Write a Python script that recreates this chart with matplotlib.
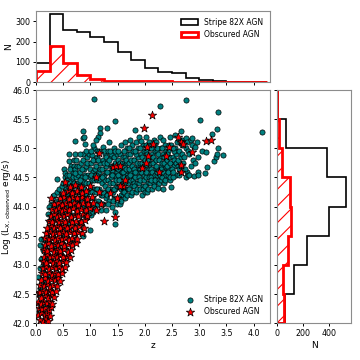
import matplotlib
matplotlib.use("Agg")
import matplotlib.pyplot as plt
from matplotlib.patches import Patch

# --- histogram counts ---
z_edges = [0.0, 0.25, 0.5, 0.75, 1.0, 1.25, 1.5, 1.75, 2.0, 2.25, 2.5,
           2.75, 3.0, 3.25, 3.5, 3.75, 4.0, 4.25]
z_counts_all = [97, 332, 258, 248, 222, 196, 149, 112, 70, 53, 47, 24, 11, 8, 1, 0, 1]
z_counts_obs = [57, 177, 96, 37, 18, 8, 8, 8, 6, 6, 4, 3, 3, 1, 1, 0, 0]

lx_edges = [42.0, 42.5, 43.0, 43.5, 44.0, 44.5, 45.0, 45.5, 46.0]
lx_counts_all = [62, 130, 229, 400, 535, 384, 65, 5]
lx_counts_obs = [50, 47, 86, 104, 99, 36, 15, 2]

# --- scatter points (z, log Lx) ---
agn_points = [
    (0.05, 42.35), (0.07, 42.6), (0.04, 42.8), (0.08, 42.95), (0.06, 42.5), (0.09, 43.1), (0.03, 42.2),
    (0.12, 42.7), (0.15, 43.0), (0.10, 43.45), (0.17, 43.3), (0.14, 43.43), (0.19, 43.1), (0.13, 42.9),
    (0.18, 42.5), (0.16, 42.3), (0.12, 43.25), (0.08, 43.35),
    (0.21, 43.55), (0.23, 43.75), (0.22, 43.88), (0.28, 44.05), (0.24, 44.0), (0.27, 43.65),
    (0.29, 43.85), (0.26, 42.8), (0.24, 43.1),
    (0.31, 44.15), (0.33, 44.2), (0.36, 44.0), (0.385, 44.47), (0.34, 43.8), (0.39, 44.25),
    (0.32, 43.5), (0.37, 43.3),
    (0.41, 44.1), (0.43, 44.3), (0.46, 44.2), (0.48, 44.35), (0.44, 43.95), (0.47, 43.6),
    (0.42, 43.7), (0.49, 44.05), (0.45, 43.2),
    (0.51, 44.64), (0.53, 44.5), (0.55, 44.3), (0.57, 44.45), (0.52, 44.15), (0.58, 44.2),
    (0.56, 43.9), (0.54, 43.5), (0.59, 43.7), (0.52, 43.3), (0.57, 44.0), (0.53, 44.58),
    (0.505, 44.4), (0.535, 44.25), (0.565, 44.55), (0.595, 44.35), (0.515, 44.05),
    (0.61, 44.55), (0.60, 44.78), (0.61, 44.91), (0.66, 44.45), (0.68, 44.6), (0.62, 44.3),
    (0.69, 44.25), (0.65, 44.1), (0.67, 43.85), (0.61, 43.6), (0.66, 43.45), (0.69, 44.0),
    (0.69, 44.8), (0.64, 44.7),
    (0.605, 44.42), (0.625, 44.65), (0.645, 44.2), (0.675, 44.5), (0.695, 44.7), (0.635, 44.0),
    (0.685, 44.35),
    (0.71, 44.65), (0.72, 45.13), (0.74, 44.5), (0.76, 44.7), (0.78, 44.4), (0.73, 44.25),
    (0.77, 44.1), (0.75, 43.9), (0.79, 43.7), (0.72, 43.55), (0.78, 44.55), (0.74, 44.8),
    (0.705, 44.4), (0.725, 44.58), (0.745, 44.15), (0.765, 44.35), (0.785, 44.7), (0.715, 44.9),
    (0.755, 44.05), (0.795, 44.25),
    (0.81, 44.6), (0.83, 44.75), (0.85, 44.5), (0.86, 45.17), (0.88, 44.65), (0.82, 44.35),
    (0.86, 44.2), (0.84, 44.0), (0.89, 43.85), (0.81, 43.7), (0.86, 43.5), (0.88, 44.42),
    (0.86, 44.9), (0.90, 45.08), (0.87, 45.3), (0.88, 45.2),
    (0.805, 44.45), (0.825, 44.15), (0.845, 44.65), (0.865, 44.8), (0.885, 44.3), (0.815, 44.9),
    (0.855, 44.05), (0.895, 44.55),
    (0.91, 44.7), (0.93, 44.85), (0.95, 44.55), (0.97, 44.9), (0.98, 44.75), (0.92, 44.4),
    (0.96, 44.25), (0.94, 44.1), (0.99, 43.95), (0.91, 43.8), (0.99, 43.6), (0.99, 44.5),
    (0.905, 44.5), (0.925, 44.2), (0.945, 44.75), (0.965, 44.4), (0.985, 44.65), (0.915, 44.95),
    (0.955, 44.0), (0.995, 44.3),
    (1.01, 44.75), (1.03, 44.88), (1.05, 44.6), (1.07, 45.0), (1.08, 44.8), (1.02, 44.45),
    (1.06, 44.3), (1.04, 44.15), (1.09, 44.0), (1.01, 43.85), (1.07, 45.84), (1.05, 45.05),
    (1.09, 44.55), (1.05, 43.9),
    (1.005, 44.55), (1.025, 44.25), (1.045, 44.8), (1.065, 44.45), (1.085, 44.65), (1.015, 44.95),
    (1.055, 44.05), (1.095, 44.3),
    (1.11, 44.7), (1.13, 44.85), (1.15, 44.6), (1.17, 45.35), (1.17, 45.26), (1.14, 45.2),
    (1.10, 45.14), (1.18, 44.75), (1.12, 44.45), (1.16, 44.3), (1.14, 44.1), (1.19, 43.95),
    (1.11, 44.25), (1.18, 44.5), (1.13, 44.95),
    (1.105, 44.55), (1.125, 44.3), (1.145, 44.8), (1.165, 44.45), (1.185, 44.65), (1.115, 44.05),
    (1.155, 44.95), (1.195, 44.2),
    (1.21, 44.65), (1.23, 44.8), (1.25, 44.55), (1.27, 44.9), (1.28, 44.7), (1.22, 44.4),
    (1.26, 44.25), (1.24, 44.05), (1.29, 43.95), (1.21, 44.2), (1.27, 44.45), (1.23, 45.02),
    (1.29, 44.6),
    (1.205, 44.5), (1.225, 44.25), (1.245, 44.75), (1.265, 44.35), (1.285, 44.85), (1.215, 44.05),
    (1.255, 44.95), (1.295, 44.15),
    (1.31, 44.75), (1.31, 45.34), (1.35, 44.6), (1.37, 44.85), (1.38, 44.7), (1.32, 44.45),
    (1.36, 44.3), (1.34, 44.1), (1.39, 44.0), (1.31, 44.2), (1.37, 44.5), (1.33, 44.95),
    (1.39, 44.62), (1.35, 45.1),
    (1.305, 44.6), (1.325, 44.3), (1.345, 44.8), (1.365, 44.4), (1.385, 44.9), (1.315, 44.05),
    (1.355, 44.95), (1.395, 44.25),
    (1.41, 44.7), (1.43, 44.85), (1.45, 44.55), (1.46, 45.46), (1.48, 44.75), (1.42, 44.4),
    (1.46, 44.3), (1.44, 44.15), (1.49, 44.05), (1.45, 43.71), (1.41, 44.25), (1.47, 44.5),
    (1.43, 45.0), (1.49, 44.6), (1.46, 43.9),
    (1.405, 44.55), (1.425, 44.3), (1.445, 44.75), (1.465, 44.45), (1.485, 44.9), (1.415, 44.1),
    (1.455, 44.95), (1.495, 44.35),
    (1.51, 44.8), (1.53, 44.65), (1.55, 44.9), (1.57, 44.5), (1.58, 44.75), (1.52, 44.35),
    (1.56, 44.2), (1.54, 44.05), (1.59, 44.4), (1.51, 44.55), (1.57, 45.05), (1.53, 44.15),
    (1.59, 44.85),
    (1.505, 44.65), (1.525, 44.45), (1.545, 44.75), (1.565, 44.3), (1.585, 44.6), (1.515, 44.95),
    (1.555, 44.1), (1.595, 44.25),
    (1.61, 44.7), (1.63, 44.85), (1.65, 44.55), (1.67, 45.0), (1.68, 44.75), (1.62, 44.4),
    (1.66, 44.3), (1.64, 44.15), (1.69, 44.5), (1.61, 44.25), (1.67, 44.62), (1.63, 45.1),
    (1.69, 44.9),
    (1.605, 44.6), (1.625, 44.5), (1.645, 44.8), (1.665, 44.2), (1.685, 44.4), (1.615, 44.95),
    (1.655, 44.65), (1.695, 44.3),
    (1.71, 44.75), (1.73, 44.9), (1.75, 44.6), (1.77, 45.05), (1.78, 44.8), (1.72, 44.45),
    (1.76, 44.35), (1.74, 44.2), (1.79, 44.55), (1.71, 44.3), (1.77, 44.68), (1.73, 45.15),
    (1.79, 44.95),
    (1.705, 44.65), (1.725, 44.55), (1.745, 44.8), (1.765, 44.25), (1.785, 44.45), (1.715, 45.0),
    (1.755, 44.7), (1.795, 44.4),
    (1.81, 44.8), (1.82, 45.31), (1.85, 44.65), (1.87, 45.0), (1.88, 44.85), (1.82, 44.5),
    (1.86, 44.4), (1.84, 44.25), (1.89, 44.6), (1.81, 44.35), (1.87, 44.72), (1.83, 45.1),
    (1.89, 45.2),
    (1.805, 44.65), (1.825, 44.6), (1.845, 44.9), (1.865, 44.3), (1.885, 44.5), (1.815, 44.95),
    (1.855, 44.75), (1.895, 44.4),
    (1.91, 44.75), (1.93, 44.9), (1.95, 44.6), (1.97, 45.05), (1.98, 44.8), (1.92, 44.45),
    (1.96, 44.35), (1.94, 44.2), (1.99, 44.55), (1.91, 44.3), (1.97, 44.7), (1.93, 45.12),
    (1.99, 44.95),
    (1.905, 44.65), (1.925, 44.6), (1.945, 44.85), (1.965, 44.3), (1.985, 44.45), (1.915, 45.0),
    (1.955, 44.75), (1.995, 44.25),
    (2.01, 44.8), (2.03, 44.95), (2.05, 44.65), (2.07, 45.1), (2.08, 44.85), (2.02, 44.5),
    (2.06, 44.4), (2.04, 44.25), (2.09, 44.6), (2.01, 44.35), (2.07, 44.72), (2.03, 45.2),
    (2.09, 45.0),
    (2.005, 44.7), (2.025, 44.6), (2.045, 44.9), (2.065, 44.3), (2.085, 44.5), (2.015, 45.05),
    (2.055, 44.8), (2.095, 44.4),
    (2.11, 44.75), (2.13, 44.9), (2.15, 44.6), (2.17, 45.05), (2.18, 44.8), (2.12, 44.5),
    (2.16, 44.4), (2.14, 44.3), (2.19, 44.65), (2.11, 44.45), (2.17, 45.15), (2.19, 44.95),
    (2.105, 44.65), (2.125, 44.6), (2.145, 44.85), (2.165, 44.35), (2.185, 44.55), (2.115, 45.0),
    (2.155, 44.75), (2.195, 44.45),
    (2.21, 44.8), (2.23, 44.95), (2.25, 44.65), (2.27, 45.72), (2.28, 44.85), (2.22, 44.55),
    (2.26, 44.45), (2.24, 44.32), (2.29, 44.7), (2.21, 45.1), (2.27, 45.2), (2.29, 45.0),
    (2.205, 44.7), (2.225, 44.6), (2.245, 44.9), (2.265, 44.4), (2.285, 44.55), (2.215, 45.0),
    (2.255, 44.8), (2.295, 44.45),
    (2.31, 44.75), (2.33, 44.9), (2.35, 44.6), (2.37, 45.05), (2.38, 44.8), (2.32, 44.5),
    (2.36, 44.4), (2.34, 44.3), (2.39, 44.68), (2.33, 45.15),
    (2.305, 44.65), (2.325, 44.6), (2.345, 44.85), (2.365, 44.45), (2.385, 44.55), (2.315, 45.0),
    (2.355, 44.75), (2.395, 44.95),
    (2.41, 44.8), (2.43, 44.95), (2.45, 44.65), (2.47, 45.2), (2.48, 44.33), (2.42, 44.55),
    (2.46, 44.45), (2.44, 45.05), (2.49, 44.75),
    (2.405, 44.7), (2.425, 44.6), (2.445, 44.85), (2.465, 44.5), (2.485, 45.05), (2.415, 44.9),
    (2.455, 44.75),
    (2.51, 44.85), (2.53, 44.7), (2.55, 45.0), (2.57, 44.55), (2.58, 44.9), (2.52, 44.5),
    (2.56, 45.22), (2.54, 44.8),
    (2.505, 44.65), (2.525, 44.6), (2.545, 44.95), (2.565, 44.75), (2.585, 45.1), (2.515, 45.0),
    (2.61, 44.8), (2.63, 44.95), (2.65, 44.6), (2.67, 45.3), (2.68, 45.05), (2.62, 44.55),
    (2.66, 44.85), (2.69, 45.15),
    (2.605, 44.7), (2.625, 44.65), (2.645, 45.1), (2.665, 44.7), (2.685, 44.9),
    (2.71, 44.75), (2.75, 45.17), (2.75, 45.82), (2.77, 44.6), (2.78, 45.1), (2.72, 44.85),
    (2.76, 45.0), (2.75, 44.5), (2.80, 44.55), (2.73, 44.65), (2.79, 44.95),
    (2.81, 44.9), (2.85, 45.14), (2.85, 44.7), (2.87, 45.05), (2.82, 44.55), (2.88, 44.8),
    (2.86, 45.18), (2.90, 44.52),
    (2.92, 45.03), (2.93, 44.75), (2.95, 45.1), (2.97, 44.6), (2.98, 44.85), (2.98, 44.55),
    (3.02, 45.48), (3.05, 44.95), (3.11, 44.58), (3.12, 44.94), (3.15, 44.68), (3.23, 45.24),
    (3.27, 44.78), (3.30, 44.85), (3.33, 44.9), (3.32, 45.33), (3.35, 45.0), (3.35, 45.62),
    (3.44, 44.88), (4.15, 45.28),
]

obscured_points = [
    (0.07, 42.05), (0.13, 42.03), (0.18, 42.08), (0.22, 42.04),
    (0.04, 42.15), (0.10, 42.17), (0.16, 42.14), (0.21, 42.18), (0.26, 42.13),
    (0.05, 42.26), (0.11, 42.24), (0.17, 42.27), (0.23, 42.23), (0.28, 42.28),
    (0.03, 42.36), (0.09, 42.33), (0.14, 42.37), (0.20, 42.34), (0.25, 42.36), (0.30, 42.33),
    (0.05, 42.52), (0.10, 42.44), (0.16, 42.46), (0.22, 42.43), (0.27, 42.48), (0.33, 42.45),
    (0.07, 42.53), (0.12, 42.56), (0.18, 42.54), (0.24, 42.57), (0.30, 42.53), (0.36, 42.56),
    (0.08, 42.66), (0.14, 42.64), (0.20, 42.67), (0.26, 42.63), (0.32, 42.66), (0.38, 42.64),
    (0.10, 42.74), (0.16, 42.77), (0.22, 42.73), (0.28, 42.76), (0.34, 42.74), (0.40, 42.77),
    (0.45, 42.73),
    (0.11, 42.86), (0.17, 42.84), (0.23, 42.87), (0.29, 42.83), (0.35, 42.86), (0.41, 42.84),
    (0.47, 42.87),
    (0.12, 42.94), (0.18, 42.97), (0.24, 42.93), (0.30, 42.96), (0.36, 42.94), (0.42, 42.97),
    (0.48, 42.93), (0.54, 42.96),
    (0.13, 43.06), (0.19, 43.04), (0.25, 43.07), (0.31, 43.03), (0.37, 43.06), (0.43, 43.04),
    (0.49, 43.07), (0.56, 43.05),
    (0.14, 43.14), (0.20, 43.17), (0.26, 43.13), (0.32, 43.16), (0.38, 43.14), (0.44, 43.17),
    (0.50, 43.13), (0.57, 43.16), (0.63, 43.14),
    (0.15, 43.26), (0.21, 43.24), (0.27, 43.27), (0.33, 43.23), (0.39, 43.26), (0.45, 43.24),
    (0.51, 43.27), (0.58, 43.23), (0.65, 43.26),
    (0.16, 43.34), (0.22, 43.37), (0.28, 43.33), (0.34, 43.36), (0.40, 43.34), (0.46, 43.37),
    (0.52, 43.33), (0.59, 43.36), (0.66, 43.34), (0.73, 43.37),
    (0.17, 43.46), (0.23, 43.44), (0.29, 43.47), (0.35, 43.43), (0.41, 43.46), (0.47, 43.44),
    (0.53, 43.47), (0.60, 43.43), (0.67, 43.46), (0.75, 43.44),
    (0.19, 43.54), (0.25, 43.57), (0.31, 43.53), (0.37, 43.56), (0.43, 43.54), (0.49, 43.57),
    (0.55, 43.53), (0.62, 43.56), (0.69, 43.54), (0.77, 43.57), (0.85, 43.54),
    (0.20, 43.64), (0.27, 43.66), (0.33, 43.63), (0.39, 43.67), (0.45, 43.64), (0.51, 43.66),
    (0.57, 43.63), (0.64, 43.67), (0.71, 43.64), (0.79, 43.66), (0.88, 43.63),
    (0.24, 43.76), (0.30, 43.74), (0.36, 43.77), (0.42, 43.73), (0.48, 43.76), (0.54, 43.74),
    (0.60, 43.77), (0.67, 43.73), (0.74, 43.76), (0.82, 43.74), (0.90, 43.77), (1.25, 43.75),
    (0.27, 43.84), (0.33, 43.87), (0.39, 43.83), (0.45, 43.86), (0.51, 43.84), (0.57, 43.87),
    (0.64, 43.83), (0.71, 43.86), (0.78, 43.84), (0.86, 43.87), (0.94, 43.84), (1.45, 43.83),
    (0.30, 43.96), (0.36, 43.94), (0.42, 43.97), (0.48, 43.93), (0.54, 43.96), (0.61, 43.94),
    (0.68, 43.97), (0.75, 43.93), (0.83, 43.96), (0.91, 43.94), (0.99, 43.97), (1.10, 43.95),
    (0.33, 44.04), (0.40, 44.07), (0.47, 44.03), (0.55, 44.06), (0.62, 44.04), (0.70, 44.07),
    (0.78, 44.03), (0.86, 44.06), (0.95, 44.04), (1.05, 44.07), (1.20, 44.05),
    (0.27, 44.15), (0.44, 44.14), (0.52, 44.17), (0.60, 44.13), (0.68, 44.16), (0.76, 44.14),
    (0.85, 44.17), (0.93, 44.13), (1.02, 44.16), (1.36, 44.23), (1.48, 44.14),
    (0.50, 44.24), (0.58, 44.27), (0.66, 44.23), (0.75, 44.26), (0.84, 44.24), (0.92, 44.27),
    (1.15, 44.25), (1.60, 44.35),
    (0.62, 44.34), (0.72, 44.37), (0.82, 44.33), (1.00, 44.36), (1.55, 44.35), (1.63, 44.45),
    (0.53, 44.43), (1.11, 44.51), (1.41, 44.68), (1.47, 44.70), (1.55, 44.70), (1.16, 44.92),
    (1.94, 44.66), (2.03, 44.74), (2.26, 44.60), (2.66, 44.71), (2.66, 44.60), (2.05, 44.86),
    (2.39, 44.86), (2.04, 45.03), (2.15, 45.08), (2.45, 45.03), (2.61, 45.20), (2.67, 45.11),
    (2.70, 45.08), (2.87, 44.94), (3.13, 45.13), (3.22, 45.14), (1.98, 45.35), (2.14, 45.57),
]

agn_z = [p[0] for p in agn_points]
agn_lx = [p[1] for p in agn_points]
obs_z = [p[0] for p in obscured_points]
obs_lx = [p[1] for p in obscured_points]

plt.rcParams['hatch.linewidth'] = 0.8
plt.rcParams['font.size'] = 6

fig = plt.figure(figsize=(3.6, 3.6), dpi=100)
ax_main = fig.add_axes([0.1, 0.102, 0.65, 0.648])
ax_top = fig.add_axes([0.1, 0.771, 0.65, 0.199], sharex=ax_main)
ax_right = fig.add_axes([0.77, 0.102, 0.205, 0.648], sharey=ax_main)

# scatter
ax_main.scatter(agn_z, agn_lx, s=14, c='teal', edgecolors='black', linewidths=0.5,
                label='Stripe 82X AGN', zorder=2)
ax_main.scatter(obs_z, obs_lx, s=40, c='red', marker='*', edgecolors='black',
                linewidths=0.5, label='Obscured AGN', zorder=3)
ax_main.set_xlim(0, 4.3)
ax_main.set_ylim(42, 46)
ax_main.set_xticks([0, 0.5, 1.0, 1.5, 2.0, 2.5, 3.0, 3.5, 4.0])
ax_main.set_yticks([42.0, 42.5, 43.0, 43.5, 44.0, 44.5, 45.0, 45.5, 46.0])
ax_main.xaxis.set_major_formatter(plt.FormatStrFormatter('%.1f'))
ax_main.yaxis.set_major_formatter(plt.FormatStrFormatter('%.1f'))
ax_main.set_xlabel('z', fontsize=6.5, labelpad=2)
ax_main.set_ylabel(r'Log (L$_{\rm X,\, observed}$ erg/s)', fontsize=6.5, labelpad=0)
ax_main.legend(loc='lower right', frameon=False, fontsize=5.5, handletextpad=0.8)

# top histogram: hatched fill (no outline) + step outline
ax_top.stairs(z_counts_obs, z_edges, fill=True, facecolor='none', edgecolor='red',
              linewidth=0, hatch='//')
ax_top.stairs(z_counts_all, z_edges, color='black', linewidth=1.2)
ax_top.stairs(z_counts_obs, z_edges, color='red', linewidth=2)
ax_top.set_ylim(0, 350)
ax_top.set_yticks([0, 100, 200, 300])
ax_top.set_ylabel('N', fontsize=6.5, labelpad=2)
ax_top.tick_params(axis='x', labelbottom=False)
h_obs = Patch(facecolor='none', edgecolor='red', linewidth=2, hatch='//')
h_agn = Patch(facecolor='none', edgecolor='black', linewidth=1.2)
ax_top.legend([h_agn, h_obs], ['Stripe 82X AGN', 'Obscured AGN'], loc='upper right',
              frameon=False, fontsize=5.5, handlelength=2.2)

# right histogram
ax_right.stairs(lx_counts_obs, lx_edges, orientation='horizontal', fill=True,
                facecolor='none', edgecolor='red', linewidth=0, hatch='//')
ax_right.stairs(lx_counts_all, lx_edges, orientation='horizontal', color='black', linewidth=1.2)
ax_right.stairs(lx_counts_obs, lx_edges, orientation='horizontal', color='red', linewidth=2)
ax_right.set_xlim(0, 570)
ax_right.set_xticks([0, 200, 400])
ax_right.set_xlabel('N', fontsize=6.5, labelpad=2)
ax_right.tick_params(axis='y', labelleft=False)

for ax in (ax_main, ax_top, ax_right):
    for sp in ax.spines.values():
        sp.set_color('0.55')
    ax.tick_params(labelsize=5.7, length=2.5, width=0.7, pad=1.5)

fig.savefig('out.png', dpi=100)
